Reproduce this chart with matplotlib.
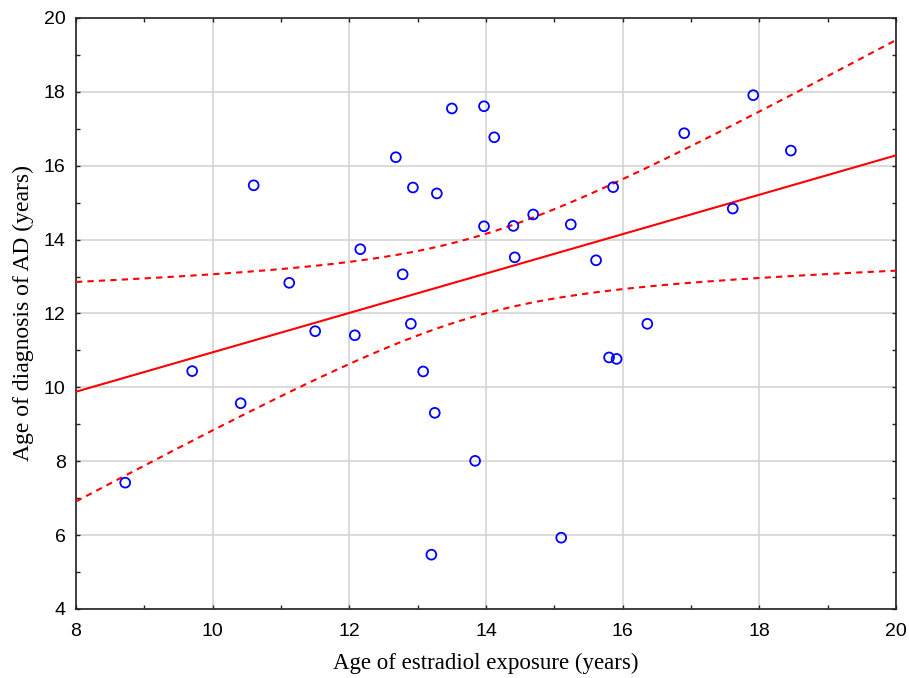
import numpy as np
import matplotlib.pyplot as plt
from matplotlib.ticker import MultipleLocator

# data
estradiol_age = [8.72, 9.70, 10.41, 10.60, 11.12, 11.50, 12.08, 12.16, 12.68, 12.78,
                 12.90, 12.93, 13.08, 13.20, 13.25, 13.28, 13.50, 13.84, 13.97, 13.97,
                 14.12, 14.40, 14.42, 14.69, 15.10, 15.24, 15.61, 15.80, 15.91, 15.86,
                 16.36, 16.90, 17.61, 17.91, 18.46]
ad_diagnosis_age = [7.42, 10.44, 9.57, 15.47, 12.83, 11.52, 11.41, 13.74, 16.23, 13.06,
                    11.72, 15.41, 10.43, 5.47, 9.31, 15.25, 17.55, 8.01, 17.61, 14.36,
                    16.77, 14.37, 13.52, 14.68, 5.93, 14.41, 13.44, 10.81, 10.77, 15.42,
                    11.72, 16.88, 14.84, 17.91, 16.41]

x = np.array(estradiol_age)
y = np.array(ad_diagnosis_age)
n = len(x)

# linear fit + 95% confidence band of the mean
b, a = np.polyfit(x, y, 1)
resid = y - (a + b * x)
s = np.sqrt(np.sum(resid ** 2) / (n - 2))
t_crit = 2.0345  # t(0.975, df=33)
xx = np.linspace(8, 20, 200)
yy = a + b * xx
se = s * np.sqrt(1 / n + (xx - x.mean()) ** 2 / np.sum((x - x.mean()) ** 2))

plt.rcParams['font.family'] = ['Liberation Sans', 'DejaVu Sans']
fig = plt.figure(figsize=(9.09, 6.78), dpi=100)
ax = fig.add_axes([0.0836, 0.1018, 0.9022, 0.8717])

ax.plot(xx, yy, color='#ff0000', lw=1.5, zorder=3)
ax.plot(xx, yy + t_crit * se, color='#ff0000', lw=1.5, ls=(0, (3, 2.5)), zorder=3)
ax.plot(xx, yy - t_crit * se, color='#ff0000', lw=1.5, ls=(0, (3, 2.5)), zorder=3)
ax.scatter(x, y, s=50, facecolors='none', edgecolors='#0000ff', linewidths=1.3, zorder=4)

ax.set_xlim(8, 20)
ax.set_ylim(4, 20)
ax.xaxis.set_major_locator(MultipleLocator(2))
ax.xaxis.set_minor_locator(MultipleLocator(1))
ax.yaxis.set_major_locator(MultipleLocator(2))
ax.yaxis.set_minor_locator(MultipleLocator(1))
ax.tick_params(which='both', direction='in', top=True, right=True, length=3,
               width=1, color='#222222', labelsize=14)
ax.tick_params(axis='x', pad=10)
ax.tick_params(axis='y', pad=7.5)
ax.grid(True, which='major', color='#d4d4d4', lw=1.2)
ax.set_axisbelow(True)
for sp in ax.spines.values():
    sp.set_color('#222222')
    sp.set_linewidth(1.2)

ax.set_xlabel('Age of estradiol exposure (years)', family='Liberation Serif',
              fontsize=16.5, labelpad=9)
ax.set_ylabel('Age of diagnosis of AD (years)', family='Liberation Serif',
              fontsize=17, labelpad=7)

fig.savefig('out.png', dpi=100)
